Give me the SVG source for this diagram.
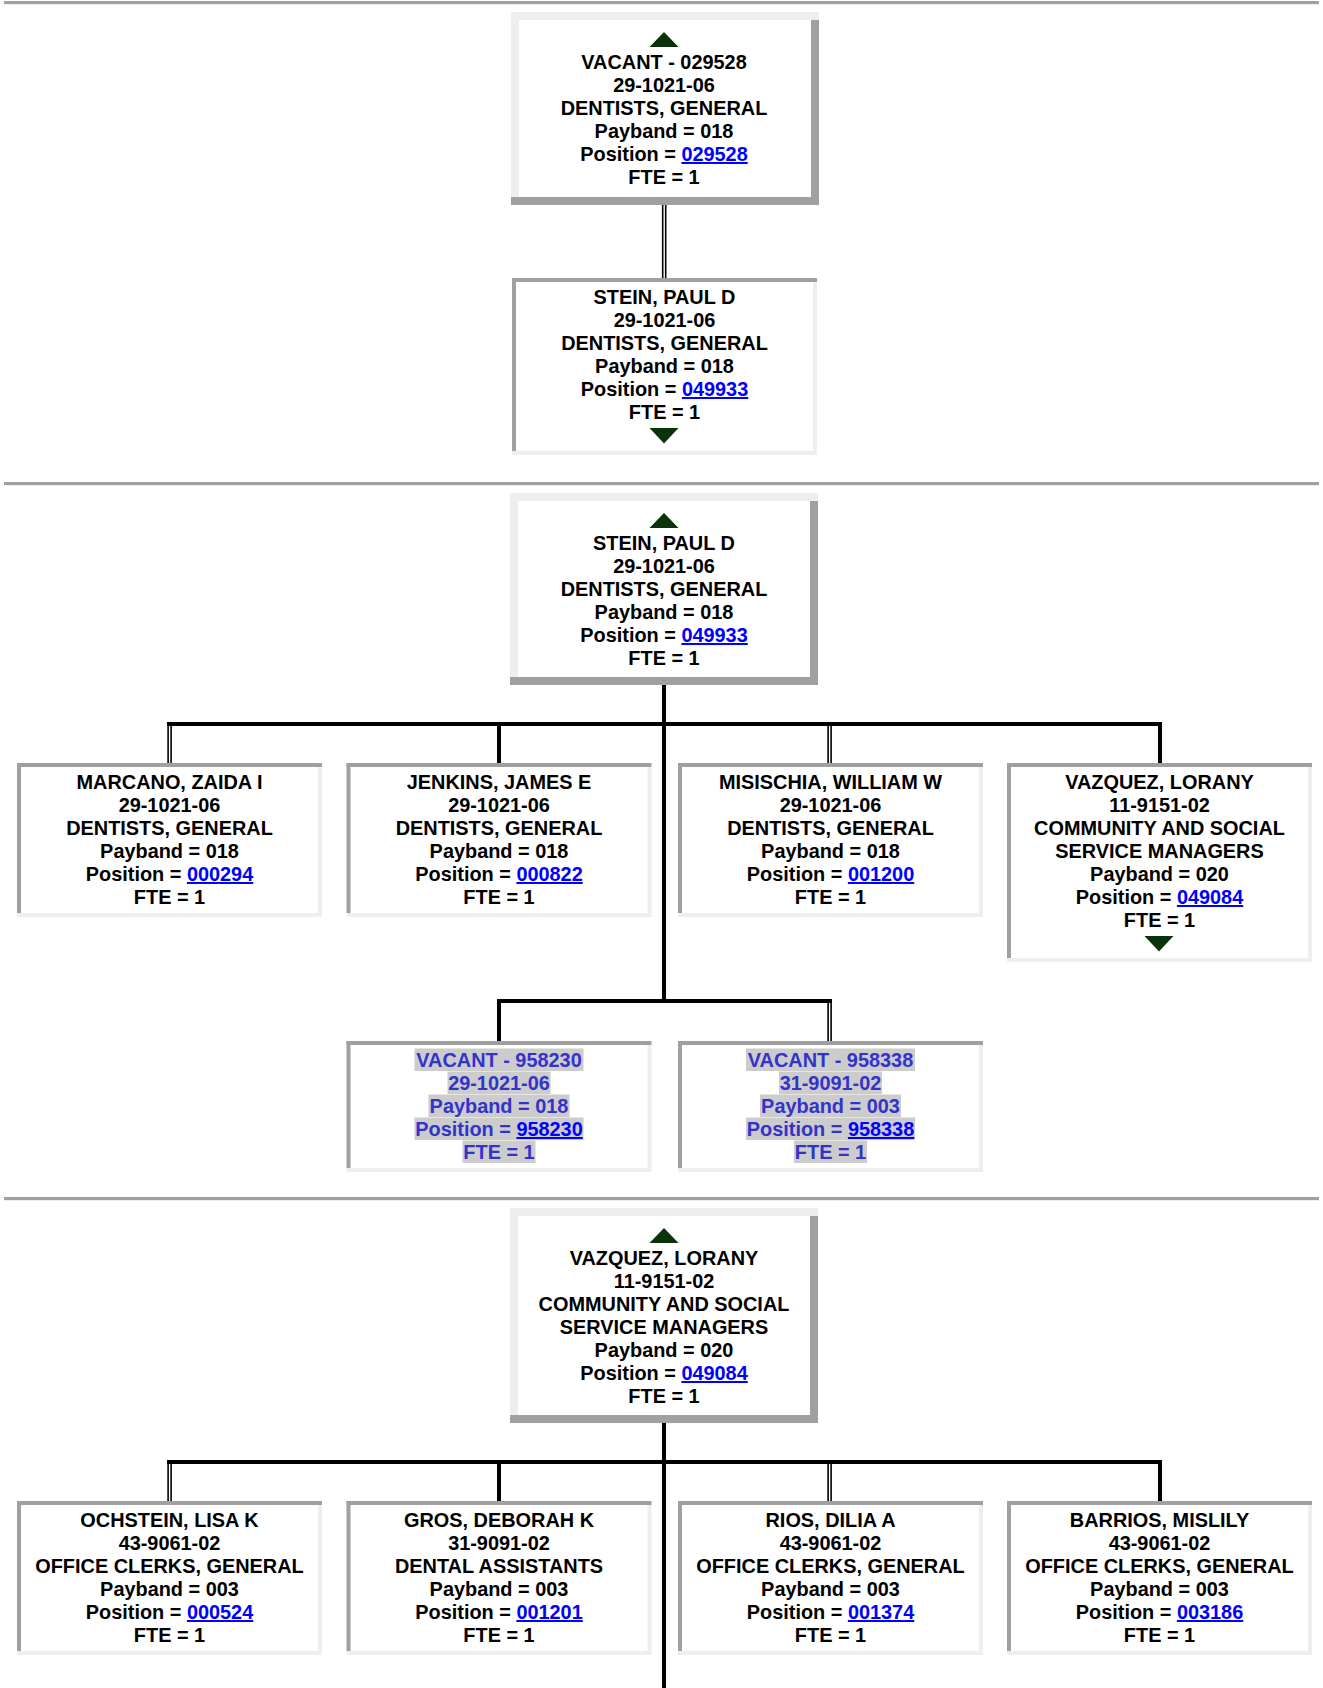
<svg xmlns="http://www.w3.org/2000/svg" width="1323" height="1688" viewBox="0 0 1323 1688">
<style>
.t{font-family:"Liberation Sans",Arial,sans-serif;font-weight:bold;font-size:19.9px;text-anchor:middle;fill:#000}
.lk{fill:#0000ff;text-decoration:underline}
.v{fill:#3333cc}
.hl{fill:#cccccc}
.dk{fill:#a0a0a0}
.lt{fill:#eeeeee}
.bg{fill:#ffffff}
.tri{fill:#0b330b}
.c{stroke:#000;stroke-width:4;fill:none}
.d{stroke:#000;stroke-width:4.6;fill:none}
.dw{stroke:#fff;stroke-width:1.4;fill:none}
</style>
<rect width="1323" height="1688" fill="#fff"/>
<g id="separators">
<rect x="4" y="1" width="1315" height="3" class="dk"/><rect x="4" y="4" width="1315" height="1" class="lt"/>
<rect x="4" y="482" width="1315" height="3" class="dk"/><rect x="4" y="485" width="1315" height="1" class="lt"/>
<rect x="4" y="1197" width="1315" height="3" class="dk"/><rect x="4" y="1200" width="1315" height="1" class="lt"/>
</g>
<g id="connectors">
<line x1="664.2" y1="205" x2="664.2" y2="278" class="d"/>
<line x1="664.2" y1="205" x2="664.2" y2="278" class="dw"/>
<line x1="664" y1="685" x2="664" y2="1003" class="c"/>
<line x1="167" y1="724" x2="1162" y2="724" class="c"/>
<line x1="169.6" y1="722" x2="169.6" y2="763" class="d"/>
<line x1="169.6" y1="726" x2="169.6" y2="763" class="dw"/>
<line x1="499" y1="724" x2="499" y2="763" class="c"/>
<line x1="829.6" y1="722" x2="829.6" y2="763" class="d"/>
<line x1="829.6" y1="726" x2="829.6" y2="763" class="dw"/>
<line x1="1160" y1="724" x2="1160" y2="763" class="c"/>
<line x1="497" y1="1001" x2="832" y2="1001" class="c"/>
<line x1="499" y1="1001" x2="499" y2="1041" class="c"/>
<line x1="829.6" y1="999" x2="829.6" y2="1041" class="d"/>
<line x1="829.6" y1="1003" x2="829.6" y2="1041" class="dw"/>
<line x1="664" y1="1423" x2="664" y2="1688" class="c"/>
<line x1="167" y1="1462" x2="1162" y2="1462" class="c"/>
<line x1="169.6" y1="1460" x2="169.6" y2="1501" class="d"/>
<line x1="169.6" y1="1464" x2="169.6" y2="1501" class="dw"/>
<line x1="499" y1="1462" x2="499" y2="1501" class="c"/>
<line x1="829.6" y1="1460" x2="829.6" y2="1501" class="d"/>
<line x1="829.6" y1="1464" x2="829.6" y2="1501" class="dw"/>
<line x1="1160" y1="1462" x2="1160" y2="1501" class="c"/>
</g>

<g id="node-vacant-029528" transform="translate(511,12)">
<rect width="308" height="193" class="bg"/>
<rect width="308" height="8" class="lt"/><rect width="8" height="185" class="lt"/>
<rect x="300" y="8" width="8" height="185" class="dk"/><rect y="185" width="308" height="8" class="dk"/>
<polygon points="138.5,35 167.5,35 153,20" class="tri"/>
<text class="t" x="153" y="57">VACANT - 029528</text>
<text class="t" x="153" y="80">29-1021-06</text>
<text class="t" x="153" y="103">DENTISTS, GENERAL</text>
<text class="t" x="153" y="126">Payband = 018</text>
<text class="t" x="153" y="149">Position = <tspan class="lk">029528</tspan></text>
<text class="t" x="153" y="172">FTE = 1</text>
</g>

<g id="node-stein-1" transform="translate(512,278)">
<rect width="305" height="177" class="bg"/>
<rect width="305" height="4" class="dk"/><rect width="4" height="173" class="dk"/>
<rect y="173" width="305" height="4" class="lt"/><rect x="301" y="4" width="4" height="169" class="lt"/>
<text class="t" x="152.5" y="26">STEIN, PAUL D</text>
<text class="t" x="152.5" y="49">29-1021-06</text>
<text class="t" x="152.5" y="72">DENTISTS, GENERAL</text>
<text class="t" x="152.5" y="95">Payband = 018</text>
<text class="t" x="152.5" y="118">Position = <tspan class="lk">049933</tspan></text>
<text class="t" x="152.5" y="141">FTE = 1</text>
<polygon points="137.5,150 166.5,150 152,165.5" class="tri"/>
</g>

<g id="node-stein-2" transform="translate(510,493)">
<rect width="308" height="192" class="bg"/>
<rect width="308" height="8" class="lt"/><rect width="8" height="184" class="lt"/>
<rect x="300" y="8" width="8" height="184" class="dk"/><rect y="184" width="308" height="8" class="dk"/>
<polygon points="139.5,35 168.5,35 154,20" class="tri"/>
<text class="t" x="154" y="57">STEIN, PAUL D</text>
<text class="t" x="154" y="80">29-1021-06</text>
<text class="t" x="154" y="103">DENTISTS, GENERAL</text>
<text class="t" x="154" y="126">Payband = 018</text>
<text class="t" x="154" y="149">Position = <tspan class="lk">049933</tspan></text>
<text class="t" x="154" y="172">FTE = 1</text>
</g>

<g id="node-marcano" transform="translate(17,763)">
<rect width="305" height="154" class="bg"/>
<rect width="305" height="4" class="dk"/><rect width="4" height="150" class="dk"/>
<rect y="150" width="305" height="4" class="lt"/><rect x="301" y="4" width="4" height="146" class="lt"/>
<text class="t" x="152.5" y="26">MARCANO, ZAIDA I</text>
<text class="t" x="152.5" y="49">29-1021-06</text>
<text class="t" x="152.5" y="72">DENTISTS, GENERAL</text>
<text class="t" x="152.5" y="95">Payband = 018</text>
<text class="t" x="152.5" y="118">Position = <tspan class="lk">000294</tspan></text>
<text class="t" x="152.5" y="141">FTE = 1</text>
</g>

<g id="node-jenkins" transform="translate(346.5,763)">
<rect width="305" height="154" class="bg"/>
<rect width="305" height="4" class="dk"/><rect width="4" height="150" class="dk"/>
<rect y="150" width="305" height="4" class="lt"/><rect x="301" y="4" width="4" height="146" class="lt"/>
<text class="t" x="152.5" y="26">JENKINS, JAMES E</text>
<text class="t" x="152.5" y="49">29-1021-06</text>
<text class="t" x="152.5" y="72">DENTISTS, GENERAL</text>
<text class="t" x="152.5" y="95">Payband = 018</text>
<text class="t" x="152.5" y="118">Position = <tspan class="lk">000822</tspan></text>
<text class="t" x="152.5" y="141">FTE = 1</text>
</g>

<g id="node-misischia" transform="translate(678,763)">
<rect width="305" height="154" class="bg"/>
<rect width="305" height="4" class="dk"/><rect width="4" height="150" class="dk"/>
<rect y="150" width="305" height="4" class="lt"/><rect x="301" y="4" width="4" height="146" class="lt"/>
<text class="t" x="152.5" y="26">MISISCHIA, WILLIAM W</text>
<text class="t" x="152.5" y="49">29-1021-06</text>
<text class="t" x="152.5" y="72">DENTISTS, GENERAL</text>
<text class="t" x="152.5" y="95">Payband = 018</text>
<text class="t" x="152.5" y="118">Position = <tspan class="lk">001200</tspan></text>
<text class="t" x="152.5" y="141">FTE = 1</text>
</g>

<g id="node-vazquez-1" transform="translate(1007,763)">
<rect width="305" height="199" class="bg"/>
<rect width="305" height="4" class="dk"/><rect width="4" height="195" class="dk"/>
<rect y="195" width="305" height="4" class="lt"/><rect x="301" y="4" width="4" height="191" class="lt"/>
<text class="t" x="152.5" y="26">VAZQUEZ, LORANY</text>
<text class="t" x="152.5" y="49">11-9151-02</text>
<text class="t" x="152.5" y="72">COMMUNITY AND SOCIAL</text>
<text class="t" x="152.5" y="95">SERVICE MANAGERS</text>
<text class="t" x="152.5" y="118">Payband = 020</text>
<text class="t" x="152.5" y="141">Position = <tspan class="lk">049084</tspan></text>
<text class="t" x="152.5" y="164">FTE = 1</text>
<polygon points="137.5,173 166.5,173 152,188.5" class="tri"/>
</g>

<g id="node-vacant-958230" transform="translate(346.5,1041)">
<rect width="305" height="131" class="bg"/>
<rect width="305" height="4" class="dk"/><rect width="4" height="127" class="dk"/>
<rect y="127" width="305" height="4" class="lt"/><rect x="301" y="4" width="4" height="123" class="lt"/>
<rect x="68" y="7.5" width="169" height="22.5" class="hl"/>
<rect x="101" y="30.5" width="103" height="22.5" class="hl"/>
<rect x="82" y="53.5" width="141" height="22.5" class="hl"/>
<rect x="68" y="76.5" width="169" height="22.5" class="hl"/>
<rect x="116" y="99.5" width="73" height="22.5" class="hl"/>
<text class="t v" x="152.5" y="26">VACANT - 958230</text>
<text class="t v" x="152.5" y="49">29-1021-06</text>
<text class="t v" x="152.5" y="72">Payband = 018</text>
<text class="t v" x="152.5" y="95">Position = <tspan class="lk">958230</tspan></text>
<text class="t v" x="152.5" y="118">FTE = 1</text>
</g>

<g id="node-vacant-958338" transform="translate(678,1041)">
<rect width="305" height="131" class="bg"/>
<rect width="305" height="4" class="dk"/><rect width="4" height="127" class="dk"/>
<rect y="127" width="305" height="4" class="lt"/><rect x="301" y="4" width="4" height="123" class="lt"/>
<rect x="68" y="7.5" width="169" height="22.5" class="hl"/>
<rect x="101" y="30.5" width="103" height="22.5" class="hl"/>
<rect x="82" y="53.5" width="141" height="22.5" class="hl"/>
<rect x="68" y="76.5" width="169" height="22.5" class="hl"/>
<rect x="116" y="99.5" width="73" height="22.5" class="hl"/>
<text class="t v" x="152.5" y="26">VACANT - 958338</text>
<text class="t v" x="152.5" y="49">31-9091-02</text>
<text class="t v" x="152.5" y="72">Payband = 003</text>
<text class="t v" x="152.5" y="95">Position = <tspan class="lk">958338</tspan></text>
<text class="t v" x="152.5" y="118">FTE = 1</text>
</g>

<g id="node-vazquez-2" transform="translate(510,1208)">
<rect width="308" height="215" class="bg"/>
<rect width="308" height="8" class="lt"/><rect width="8" height="207" class="lt"/>
<rect x="300" y="8" width="8" height="207" class="dk"/><rect y="207" width="308" height="8" class="dk"/>
<polygon points="139.5,35 168.5,35 154,20" class="tri"/>
<text class="t" x="154" y="57">VAZQUEZ, LORANY</text>
<text class="t" x="154" y="80">11-9151-02</text>
<text class="t" x="154" y="103">COMMUNITY AND SOCIAL</text>
<text class="t" x="154" y="126">SERVICE MANAGERS</text>
<text class="t" x="154" y="149">Payband = 020</text>
<text class="t" x="154" y="172">Position = <tspan class="lk">049084</tspan></text>
<text class="t" x="154" y="195">FTE = 1</text>
</g>

<g id="node-ochstein" transform="translate(17,1501)">
<rect width="305" height="154" class="bg"/>
<rect width="305" height="4" class="dk"/><rect width="4" height="150" class="dk"/>
<rect y="150" width="305" height="4" class="lt"/><rect x="301" y="4" width="4" height="146" class="lt"/>
<text class="t" x="152.5" y="26">OCHSTEIN, LISA K</text>
<text class="t" x="152.5" y="49">43-9061-02</text>
<text class="t" x="152.5" y="72">OFFICE CLERKS, GENERAL</text>
<text class="t" x="152.5" y="95">Payband = 003</text>
<text class="t" x="152.5" y="118">Position = <tspan class="lk">000524</tspan></text>
<text class="t" x="152.5" y="141">FTE = 1</text>
</g>

<g id="node-gros" transform="translate(346.5,1501)">
<rect width="305" height="154" class="bg"/>
<rect width="305" height="4" class="dk"/><rect width="4" height="150" class="dk"/>
<rect y="150" width="305" height="4" class="lt"/><rect x="301" y="4" width="4" height="146" class="lt"/>
<text class="t" x="152.5" y="26">GROS, DEBORAH K</text>
<text class="t" x="152.5" y="49">31-9091-02</text>
<text class="t" x="152.5" y="72">DENTAL ASSISTANTS</text>
<text class="t" x="152.5" y="95">Payband = 003</text>
<text class="t" x="152.5" y="118">Position = <tspan class="lk">001201</tspan></text>
<text class="t" x="152.5" y="141">FTE = 1</text>
</g>

<g id="node-rios" transform="translate(678,1501)">
<rect width="305" height="154" class="bg"/>
<rect width="305" height="4" class="dk"/><rect width="4" height="150" class="dk"/>
<rect y="150" width="305" height="4" class="lt"/><rect x="301" y="4" width="4" height="146" class="lt"/>
<text class="t" x="152.5" y="26">RIOS, DILIA A</text>
<text class="t" x="152.5" y="49">43-9061-02</text>
<text class="t" x="152.5" y="72">OFFICE CLERKS, GENERAL</text>
<text class="t" x="152.5" y="95">Payband = 003</text>
<text class="t" x="152.5" y="118">Position = <tspan class="lk">001374</tspan></text>
<text class="t" x="152.5" y="141">FTE = 1</text>
</g>

<g id="node-barrios" transform="translate(1007,1501)">
<rect width="305" height="154" class="bg"/>
<rect width="305" height="4" class="dk"/><rect width="4" height="150" class="dk"/>
<rect y="150" width="305" height="4" class="lt"/><rect x="301" y="4" width="4" height="146" class="lt"/>
<text class="t" x="152.5" y="26">BARRIOS, MISLILY</text>
<text class="t" x="152.5" y="49">43-9061-02</text>
<text class="t" x="152.5" y="72">OFFICE CLERKS, GENERAL</text>
<text class="t" x="152.5" y="95">Payband = 003</text>
<text class="t" x="152.5" y="118">Position = <tspan class="lk">003186</tspan></text>
<text class="t" x="152.5" y="141">FTE = 1</text>
</g>
</svg>
